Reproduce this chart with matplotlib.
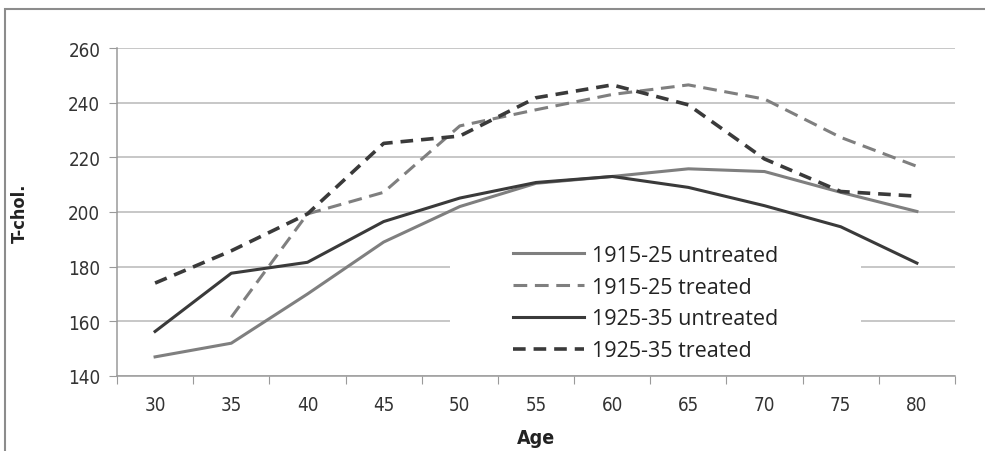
import numpy as np
import matplotlib
matplotlib.use("Agg")
import matplotlib.pyplot as plt
from matplotlib.patches import Rectangle

ages = [30, 35, 40, 45, 50, 55, 60, 65, 70, 75, 80]
untreated_1915 = [147, 152, 170, 189, 202, 210.5, 213, 215.8, 214.8, 207.2, 200.2]
treated_1915 = [np.nan, 161.5, 199.3, 207.2, 231.5, 237.4, 243, 246.5, 241.3, 227.3, 216.7]
untreated_1925 = [156.3, 177.6, 181.6, 196.5, 205.1, 210.8, 213, 209, 202.3, 194.6, 181.3]
treated_1925 = [174, 185.8, 199.3, 225.1, 227.8, 241.8, 246.5, 239.2, 219.4, 207.5, 205.8]

plt.rcParams['font.family'] = ['DejaVu Sans']
plt.rcParams['font.stretch'] = 'condensed'

fig = plt.figure(figsize=(9.85, 4.52), dpi=100)
ax = fig.add_axes([117 / 985, 1 - 377 / 452, 838 / 985, 328 / 452])

x = np.arange(len(ages))
gray = '#7f7f7f'
dark = '#3a3a3a'
ax.plot(x, untreated_1915, color=gray, lw=2.2, label='1915-25 untreated', zorder=3)
ax.plot(x, treated_1915, color=gray, lw=2.2, dashes=(4.5, 2.5), label='1915-25 treated', zorder=3)
ax.plot(x, untreated_1925, color=dark, lw=2.2, label='1925-35 untreated', zorder=3)
ax.plot(x, treated_1925, color=dark, lw=2.6, dashes=(3.5, 2.2), label='1925-35 treated', zorder=3)

ax.set_xlim(-0.5, len(ages) - 0.5)
ax.set_ylim(140, 260)
ax.set_yticks(np.arange(140, 261, 20))
ax.yaxis.grid(True, color='#b8b8b8', lw=1.1, zorder=0)
ax.set_axisbelow(True)

# category axis: ticks between categories, labels centered
ax.set_xticks(np.arange(-0.5, len(ages)), labels=[])
ax.set_xticks(x, labels=[str(a) for a in ages], minor=True)
ax.tick_params(axis='x', which='major', length=6, color='#9a9a9a', direction='out')
ax.tick_params(axis='x', which='minor', length=0, pad=14)
ax.tick_params(axis='y', length=6, color='#9a9a9a', pad=6)
ax.tick_params(axis='both', which='both', labelsize=13.5, labelcolor='#333333')

for s in ['top', 'right']:
    ax.spines[s].set_visible(False)
for s in ['left', 'bottom']:
    ax.spines[s].set_color('#9a9a9a')
    ax.spines[s].set_linewidth(1.1)

# white box behind legend hiding gridlines
ax.add_patch(Rectangle((333 / 838, 0.04), 411 / 838, 0.40, transform=ax.transAxes,
                       facecolor='white', edgecolor='none', zorder=1))
ax.legend(loc='upper left', bbox_to_anchor=(0.4726, 0.40), frameon=False,
          borderpad=0, borderaxespad=0, handlelength=3.3, handletextpad=0.35,
          labelspacing=0.5, prop={'family': ['Open Sans', 'DejaVu Sans'], 'size': 15.5,
                                  'stretch': 'normal'},
          labelcolor='#222222')

ax.set_ylabel('T-chol.', fontsize=13, fontweight='bold', color='#222222', labelpad=28)
ax.set_xlabel('Age', fontsize=14, fontweight='bold', color='#222222', labelpad=10)

fig.add_artist(Rectangle((5 / 985, -0.1), 1.2, 1.1 - 10 / 452, transform=fig.transFigure,
                         fill=False, edgecolor='#8c8c8c', lw=1.5))

fig.savefig('out.png', dpi=100)
